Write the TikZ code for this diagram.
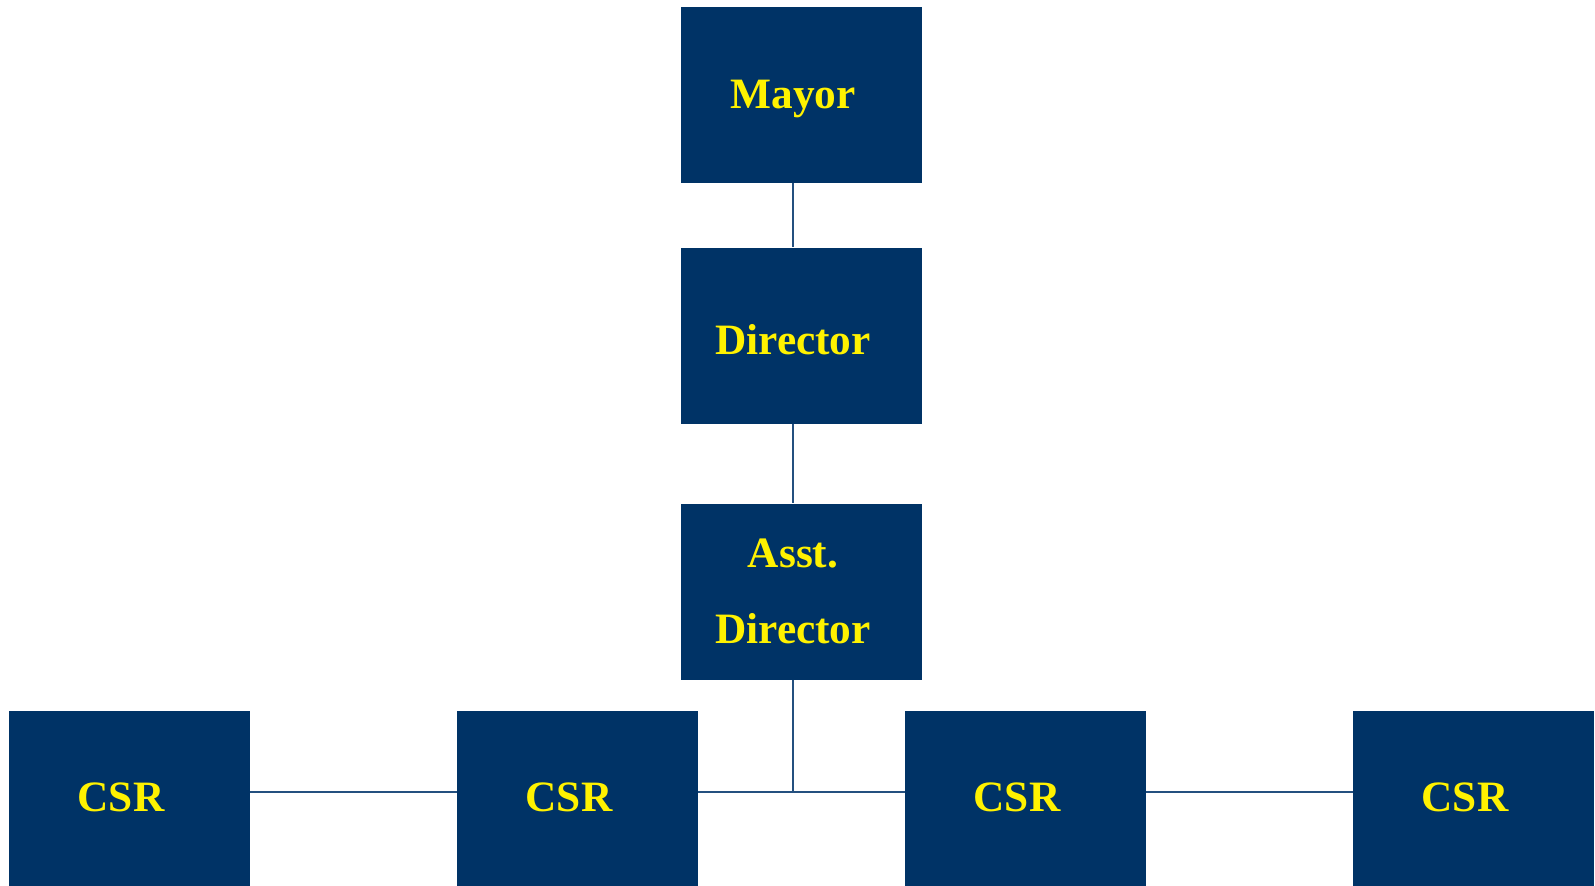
\documentclass[tikz,border=0pt]{standalone}
\usepackage{fontspec}
\setmainfont{Liberation Serif}
\definecolor{boxblue}{HTML}{003366}
\definecolor{linkblue}{HTML}{24507F}
\tikzset{
    post/.style={rectangle, fill=boxblue, inner sep=0pt,
        minimum width=241bp, minimum height=176bp},
    title/.style={text=yellow, xshift=-8.5bp, align=center,
        font=\fontsize{43.5}{76}\selectfont\bfseries},
    link/.style={draw=linkblue, line width=2bp}
}
\begin{document}
\begin{tikzpicture}[x=1bp, y=-1bp]
\useasboundingbox (0,0) rectangle (1595,885);
\coordinate (spine) at (793,0);
\node[post, label={[title, yshift=-4bp]center:Mayor}] (mayor) at (801.5,95) {};
\node[post, label={[title, yshift=-4bp]center:Director}] (director) at (801.5,335.5) {};
\node[post, label={[title]center:Asst.\\Director}] (asst) at (801.5,591.5) {};
\node[post, label={[title, yshift=2bp]center:CSR}] (csr1) at (129.5,799) {};
\node[post, label={[title, yshift=2bp]center:CSR}] (csr2) at (577.5,799) {};
\node[post, label={[title, yshift=2bp]center:CSR}] (csr3) at (1025.5,799) {};
\node[post, label={[title, yshift=2bp]center:CSR}] (csr4) at (1473.5,799) {};
\coordinate (tee) at (793,792);
% reporting lines
\draw[link] (mayor.south -| spine) -- (director.north -| spine);
\draw[link] (director.south -| spine) -- (asst.north -| spine);
\draw[link] (asst.south -| spine) -- (tee);
\draw[link] (csr1.east |- tee) -- (csr2.west |- tee);
\draw[link] (csr2.east |- tee) -- (csr3.west |- tee);
\draw[link] (csr3.east |- tee) -- (csr4.west |- tee);
\end{tikzpicture}
\end{document}
